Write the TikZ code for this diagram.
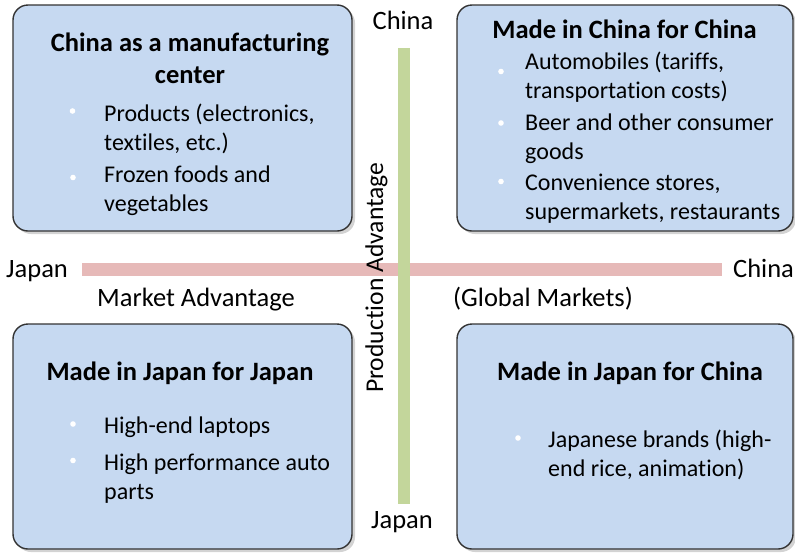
\documentclass[tikz,border=0pt]{standalone}
\usepackage{fontspec}
\setmainfont{Carlito}[Ligatures={NoCommon}]
\usetikzlibrary{shadows,positioning}
\definecolor{boxblue}{HTML}{C6D9F1}
\definecolor{axispink}{HTML}{E6B9B8}
\definecolor{axisgreen}{HTML}{C3D69B}
\tikzstyle{quad} = [draw=black!80, line width=1.4pt, fill=boxblue, rounded corners=15pt, minimum width=339pt, minimum height=226pt, inner sep=0pt, drop shadow={shadow xshift=3pt, shadow yshift=-3pt, opacity=0.35}]
\tikzstyle{ttl} = [font=\fontsize{26.5}{31.5}\selectfont\bfseries, align=center, anchor=base, inner sep=0pt]
\tikzstyle{item} = [font=\fontsize{24}{29}\selectfont, align=left, anchor=base west, inner sep=0pt]
\tikzstyle{lbl} = [font=\fontsize{26.5}{32}\selectfont, anchor=base west, inner sep=0pt]
\def\dotat(#1){\fill [white] (#1) circle (2.8);}

\begin{document}
\begin{tikzpicture}[x=1pt,y=-1pt]
\useasboundingbox (0,0) rectangle (795,552);
% the four quadrants
\node (cc) [quad] at (182.5,118) {};
\node (jc) [quad, minimum width=336pt] at (625,118) {};
\node (jj) [quad, minimum height=225pt] at (182.5,436.5) {};
\node (cj) [quad, minimum width=336pt, minimum height=225pt] at (625,436.5) {};
% axes
\coordinate (mleft) at (82,269.5);
\coordinate (mright) at (722,269.5);
\coordinate (ptop) at (404,48);
\coordinate (pbot) at (404,504);
\draw [axispink, line width=13pt] (mleft) -- (mright);
\draw [axisgreen, line width=12pt] (ptop) -- (pbot);
\node (pc) [lbl, anchor=base] at (403,29.5) {China};
\node (pj) [lbl, anchor=base] at (402,528) {Japan};
\node (mj) [lbl] at (6,277) {Japan};
\node (mc) [lbl] at (733,277) {China};
\node (ma) [lbl] at (97,306) {Market Advantage};
\node (gm) [lbl] at (453,306) {(Global Markets)};
\node (pa) [lbl, font=\fontsize{25.6}{31}\selectfont, rotate=90] at (383,393) {Production Advantage};
% China as a manufacturing center (base = last line)
\node (t1) [ttl] at (190,83.3) {China as a manufacturing\\center};
\node (i11) [item] at (104,150.5) {Products (electronics,\\textiles, etc.)};
\node (i12) [item] at (104,211) {Frozen foods and\\vegetables};
\dotat(72.5,111)
\dotat(73,177.5)
% Made in China for China
\node (t2) [ttl] at (624.5,38) {Made in China for China};
\node (i21) [item] at (525,98) {Automobiles (tariffs,\\transportation costs)};
\node (i22) [item] at (525,159) {Beer and other consumer\\goods};
\node (i23) [item] at (525,219) {Convenience stores,\\supermarkets, restaurants};
\dotat(501,71.5)
\dotat(501,123)
\dotat(501,181.5)
% Made in Japan for Japan
\node (t3) [ttl] at (180,380) {Made in Japan for Japan};
\node (i31) [item] at (104,433) {High-end laptops};
\node (i32) [item] at (104,499) {High performance auto\\parts};
\dotat(73,424)
\dotat(73,460.5)
% Made in Japan for China
\node (t4) [ttl] at (630,380) {Made in Japan for China};
\node (i41) [item] at (548,476) {Japanese brands (high-\\end rice, animation)};
\dotat(518,438)
\end{tikzpicture}
\end{document}
